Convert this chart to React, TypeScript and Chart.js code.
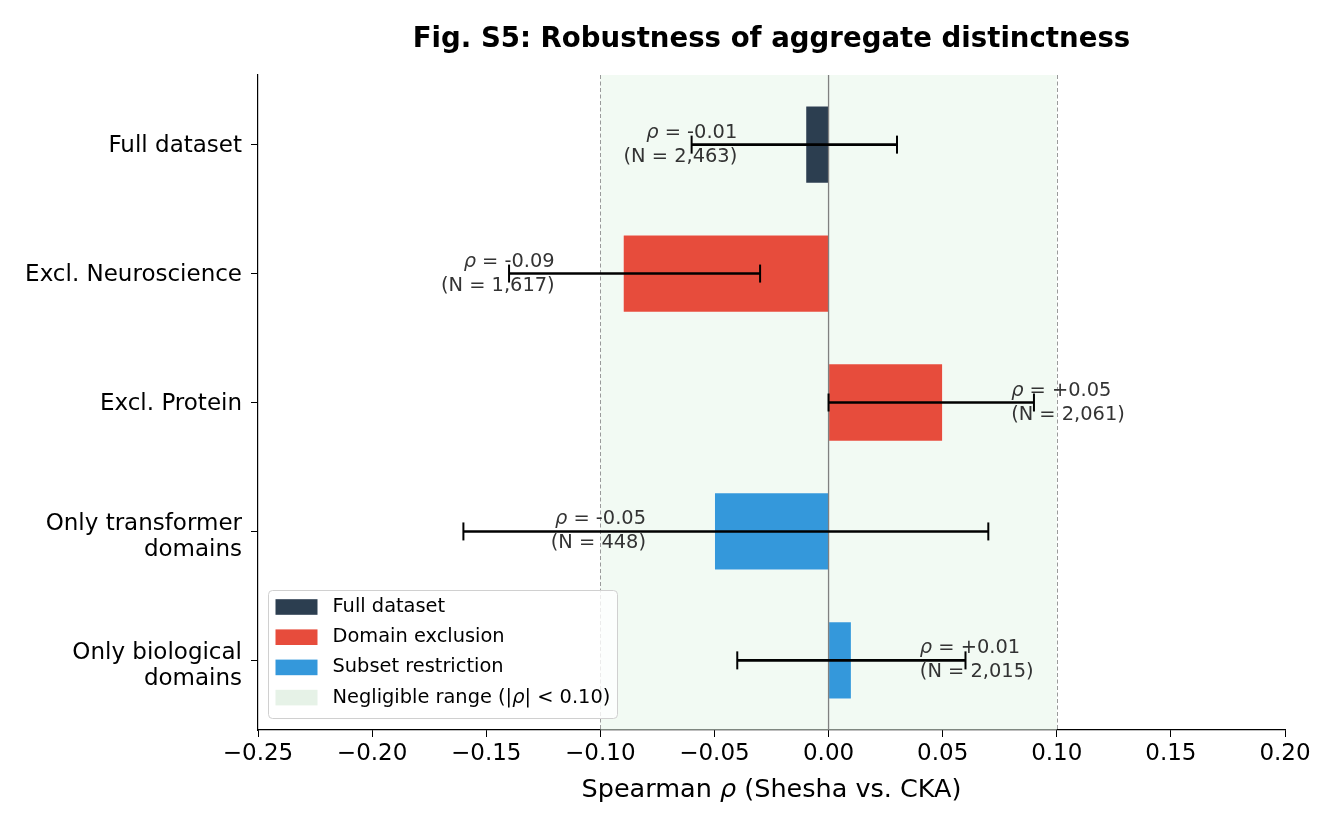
import { useEffect, useRef } from "react";
import { Chart, registerables } from "chart.js";

Chart.register(...registerables);

// Robustness analyses, top to bottom
const categories: string[][] = [
  ["Full dataset"],
  ["Excl. Neuroscience"],
  ["Excl. Protein"],
  ["Only transformer", "domains"],
  ["Only biological", "domains"],
];
const rhoValues = [-0.01, -0.09, 0.05, -0.05, 0.01];
const ciLower = [-0.06, -0.14, 0.0, -0.16, -0.04];
const ciUpper = [0.03, -0.03, 0.09, 0.07, 0.06];
const sampleSizes = [2463, 1617, 2061, 448, 2015];
const groups = ["full", "exclusion", "exclusion", "subset", "subset"];

const xTicks = [-0.25, -0.2, -0.15, -0.1, -0.05, 0.0, 0.05, 0.1, 0.15, 0.2];
const negligibleBound = 0.1;

const groupColors: Record<string, string> = {
  full: "#2c3e50",
  exclusion: "#e74c3c",
  subset: "#3498db",
};
const legendItems = [
  { label: [{ t: "Full dataset" }], color: "#2c3e50" },
  { label: [{ t: "Domain exclusion" }], color: "#e74c3c" },
  { label: [{ t: "Subset restriction" }], color: "#3498db" },
  {
    label: [{ t: "Negligible range (|" }, { t: "ρ", it: true }, { t: "| < 0.10)" }],
    color: "#e6f2e7",
  },
];

const FONT = '"DejaVu Sans", sans-serif';
const TICK_SIZE = 23;

type Part = { t: string; it?: boolean; bold?: boolean };

function drawRich(
  ctx: CanvasRenderingContext2D,
  parts: Part[],
  x: number,
  y: number,
  align: "left" | "right" | "center",
  size: number,
  color: string
) {
  const fontOf = (p: Part) =>
    `${p.it ? "italic " : ""}${p.bold ? "bold " : ""}${size}px ${FONT}`;
  let total = 0;
  const widths = parts.map((p) => {
    ctx.font = fontOf(p);
    const w = ctx.measureText(p.t).width;
    total += w;
    return w;
  });
  let cx = align === "right" ? x - total : align === "center" ? x - total / 2 : x;
  ctx.textAlign = "left";
  ctx.textBaseline = "middle";
  ctx.fillStyle = color;
  parts.forEach((p, i) => {
    ctx.font = fontOf(p);
    ctx.fillText(p.t, cx, y);
    cx += widths[i];
  });
}

const fmtSigned = (v: number) => (v >= 0 ? "+" : "-") + Math.abs(v).toFixed(2);
const fmtTick = (v: number) => (v < 0 ? "\u2212" : "") + Math.abs(v).toFixed(2);

const decorPlugin = {
  id: "decor",
  beforeDatasetsDraw(chart: any) {
    const { ctx, chartArea: a, scales } = chart;
    const x = scales.x;
    ctx.save();
    // negligible band
    const x0 = x.getPixelForValue(-negligibleBound);
    const x1 = x.getPixelForValue(negligibleBound);
    ctx.fillStyle = "rgba(232,245,233,0.55)";
    ctx.fillRect(x0, a.top, x1 - x0, a.bottom - a.top);
    // band bounds
    ctx.strokeStyle = "#9a9a9a";
    ctx.lineWidth = 1;
    ctx.setLineDash([4, 2.5]);
    [x0, x1].forEach((px) => {
      ctx.beginPath();
      ctx.moveTo(Math.round(px) + 0.5, a.top);
      ctx.lineTo(Math.round(px) + 0.5, a.bottom);
      ctx.stroke();
    });
    ctx.restore();
  },
  afterDatasetsDraw(chart: any) {
    const { ctx, chartArea: a, scales } = chart;
    const x = scales.x;
    const y = scales.y;
    ctx.save();
    // zero reference line
    const zx = x.getPixelForValue(0);
    ctx.strokeStyle = "#808080";
    ctx.lineWidth = 1.3;
    ctx.beginPath();
    ctx.moveTo(zx, a.top);
    ctx.lineTo(zx, a.bottom);
    ctx.stroke();

    // value annotations
    rhoValues.forEach((v, i) => {
      const cy = y.getPixelForValue(i);
      const pos = v >= 0;
      const tx = x.getPixelForValue(pos ? v + 0.03 : v - 0.03);
      const align = pos ? "left" : "right";
      drawRich(ctx, [{ t: "ρ", it: true }, { t: " = " + fmtSigned(v) }], tx, cy - 12, align, 19.4, "#333333");
      drawRich(ctx, [{ t: `(N = ${sampleSizes[i].toLocaleString("en-US")})` }], tx, cy + 12, align, 19.4, "#333333");
    });

    // confidence intervals
    ctx.strokeStyle = "#000000";
    rhoValues.forEach((_, i) => {
      const cy = y.getPixelForValue(i);
      const lo = x.getPixelForValue(ciLower[i]);
      const hi = x.getPixelForValue(ciUpper[i]);
      ctx.lineWidth = 2.6;
      ctx.beginPath();
      ctx.moveTo(lo, cy);
      ctx.lineTo(hi, cy);
      ctx.stroke();
      ctx.lineWidth = 2;
      [lo, hi].forEach((px) => {
        ctx.beginPath();
        ctx.moveTo(px, cy - 9);
        ctx.lineTo(px, cy + 9);
        ctx.stroke();
      });
    });
    ctx.restore();
  },
  afterDraw(chart: any) {
    const { ctx, chartArea: a, scales } = chart;
    ctx.save();
    const cx = (a.left + a.right) / 2;

    // category labels (multi-line blocks sit slightly below their tick)
    categories.forEach((lines, i) => {
      const ty = scales.y.getPixelForValue(i);
      const lh = 26;
      const first = ty + 1.5 - ((lines.length - 1) * lh) / 2 + (lines.length > 1 ? 4.5 : 0);
      lines.forEach((line, k) => {
        drawRich(ctx, [{ t: line }], a.left - 16, first + k * lh, "right", TICK_SIZE, "#000000");
      });
    });

    // title
    drawRich(ctx, [{ t: "Fig. S5: Robustness of aggregate distinctness", bold: true }], cx, 39.5, "center", 27.6, "#000000");
    // x axis title
    drawRich(
      ctx,
      [{ t: "Spearman " }, { t: "ρ", it: true }, { t: " (Shesha vs. CKA)" }],
      cx,
      790,
      "center",
      25.5,
      "#000000"
    );

    // legend
    const bx = a.left + 10.5;
    const by = a.bottom - 139.5;
    const bw = 349;
    const bh = 128;
    ctx.beginPath();
    ctx.roundRect(bx, by, bw, bh, 4);
    ctx.fillStyle = "rgba(255,255,255,0.8)";
    ctx.fill();
    ctx.strokeStyle = "#d0d0d0";
    ctx.lineWidth = 1;
    ctx.stroke();
    legendItems.forEach((item, i) => {
      const ry = by + 16.5 + i * 30.2;
      ctx.fillStyle = item.color;
      ctx.fillRect(bx + 7, ry - 7.8, 42, 15.6);
      drawRich(ctx, item.label, bx + 64, ry, "left", 19.4, "#000000");
    });
    ctx.restore();
  },
};

export default function App() {
  const ref = useRef<HTMLCanvasElement | null>(null);

  useEffect(() => {
    document.body.style.margin = "0";
    const canvas = ref.current;
    if (!canvas) return;
    const chart = new Chart(canvas, {
      type: "bar",
      data: {
        datasets: [
          {
            data: rhoValues.map((v, i) => ({ x: v, y: i })),
            backgroundColor: groups.map((g) => groupColors[g]),
            borderColor: "#ffffff",
            borderWidth: 0.5,
            barPercentage: 0.6,
            categoryPercentage: 1,
          },
        ],
      },
      options: {
        indexAxis: "y",
        animation: false,
        responsive: false,
        devicePixelRatio: 1,
        layout: { padding: { top: 75, right: 48, left: 0, bottom: 0 } },
        plugins: {
          legend: { display: false },
          tooltip: { enabled: false },
          title: { display: false },
        },
        scales: {
          x: {
            type: "linear",
            min: -0.25,
            max: 0.2,
            offset: false,
            afterBuildTicks: (s: any) => {
              s.ticks = xTicks.map((v) => ({ value: v }));
            },
            afterFit: (s: any) => {
              s.height = 95;
            },
            ticks: {
              autoSkip: false,
              maxRotation: 0,
              padding: 3,
              color: "#000000",
              font: { family: FONT, size: TICK_SIZE },
              callback: (v: any) => fmtTick(Number(v)),
            },
            grid: { drawOnChartArea: false, offset: false, tickLength: 7, color: "#000000", lineWidth: 1 },
            border: { color: "#000000", width: 1.2 },
          },
          y: {
            type: "linear",
            min: -0.54,
            max: 4.54,
            reverse: true,
            offset: false,
            afterBuildTicks: (s: any) => {
              s.ticks = categories.map((_, i) => ({ value: i }));
            },
            afterFit: (s: any) => {
              s.width = 258;
            },
            ticks: {
              display: false,
              autoSkip: false,
            },
            grid: { drawOnChartArea: false, offset: false, tickLength: 7, color: "#000000", lineWidth: 1 },
            border: { color: "#000000", width: 1.2 },
          },
        },
      },
      plugins: [decorPlugin],
    } as any);
    return () => chart.destroy();
  }, []);

  return (
    <div style={{ width: 1333, height: 825, background: "#ffffff" }}>
      <canvas ref={ref} width={1333} height={825} style={{ display: "block" }} />
    </div>
  );
}
